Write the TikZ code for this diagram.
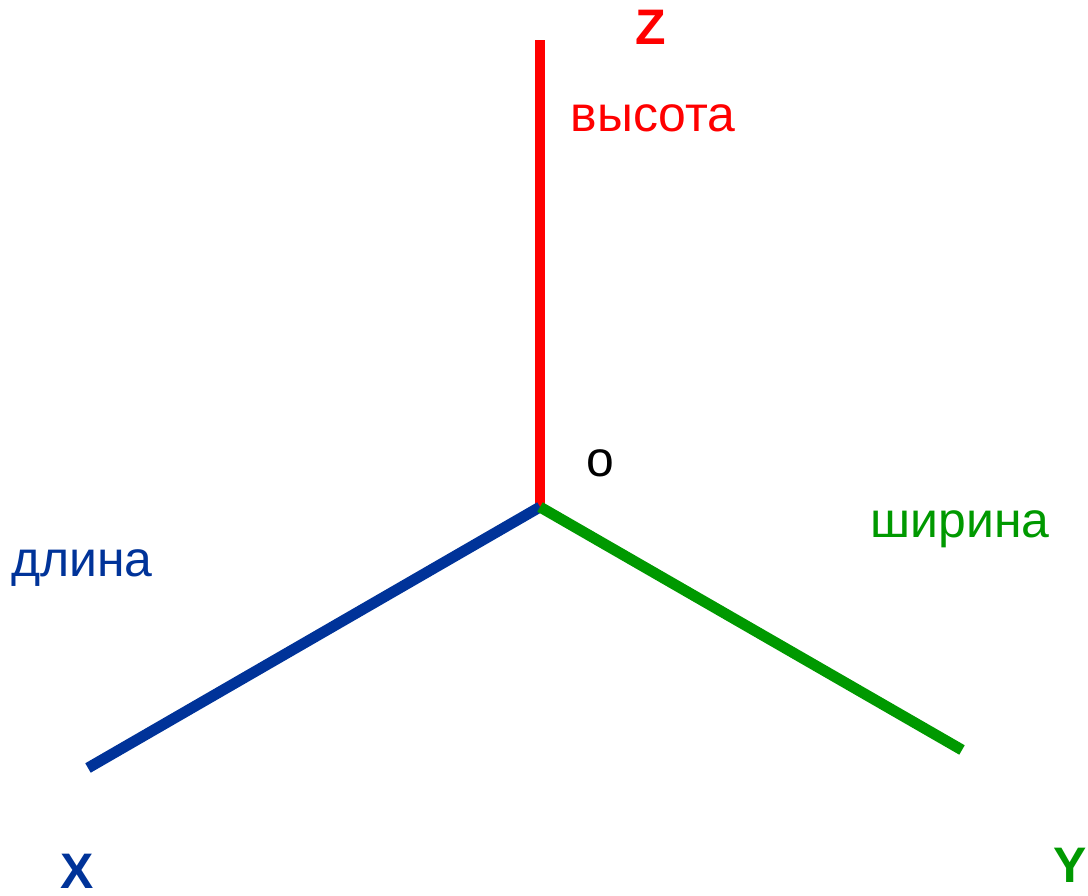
\documentclass[tikz,border=0pt]{standalone}
\usepackage{fontspec}
\setmainfont{Liberation Sans}
\definecolor{axisred}{HTML}{FF0000}
\definecolor{axisblue}{HTML}{003399}
\definecolor{axisgreen}{HTML}{009900}
\tikzset{axis/.style={line width=3.1pt}}
\tikzset{lbl/.style={anchor=base, inner sep=0pt}}

\begin{document}
\begin{tikzpicture}[font=\fontsize{14.2}{17}\selectfont]
    \useasboundingbox(0, 0)rectangle(10.88, 8.96);
    \coordinate(o)at(5.40, 3.89);
    \coordinate(zend)at(5.40, 8.56);
    \coordinate(xend)at(0.88, 1.28);
    \coordinate(yend)at(9.62, 1.46);
    \draw[axis, axisred](o)--(zend);
    \draw[axis, axisblue](o)--(xend);
    \draw[axis, axisgreen](o)--(yend);
    \node[lbl, axisred](zl)at(6.51, 8.51){\textbf{Z}};
    \node[lbl, axisred](height)at(6.53, 7.64){высота};
    \node[lbl, axisblue](length)at(0.82, 3.19){длина};
    \node[lbl](ol)at(6.00, 4.19){o};
    \node[lbl, axisgreen](width)at(9.60, 3.58){ширина};
    \node[lbl, axisblue, text depth=0pt](xl)at(0.77, 0.07){\textbf{X}};
    \node[lbl, axisgreen](yl)at(10.70, 0.13){\textbf{Y}};
\end{tikzpicture}
\end{document}
